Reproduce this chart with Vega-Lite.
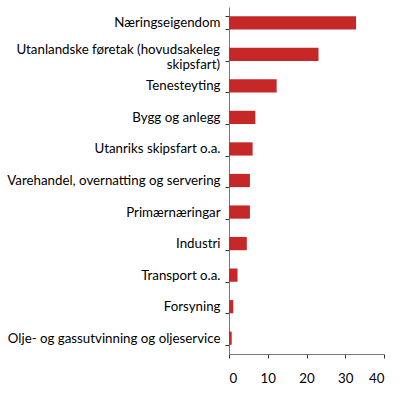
{
  "$schema": "https://vega.github.io/schema/vega-lite/v6.json",
  "autosize": "none",
  "width": 155,
  "height": 347,
  "padding": {"left": 229, "top": 7, "right": 16, "bottom": 41},
  "background": "white",
  "config": {"view": {"stroke": null}, "font": "Lato"},
  "data": {"values": [
    {"sektor": "Næringseigendom", "verdi": 32.8},
    {"sektor": "Utanlandske føretak (hovudsakeleg|skipsfart)", "verdi": 23.1},
    {"sektor": "Tenesteyting", "verdi": 12.3},
    {"sektor": "Bygg og anlegg", "verdi": 6.8},
    {"sektor": "Utanriks skipsfart o.a.", "verdi": 6.1},
    {"sektor": "Varehandel, overnatting og servering", "verdi": 5.4},
    {"sektor": "Primærnæringar", "verdi": 5.4},
    {"sektor": "Industri", "verdi": 4.6},
    {"sektor": "Transport o.a.", "verdi": 2.2},
    {"sektor": "Forsyning", "verdi": 1.1},
    {"sektor": "Olje- og gassutvinning og oljeservice", "verdi": 0.7}
  ]},
  "layer": [
    {
      "mark": {"type": "bar", "color": "#c62828"},
      "encoding": {
        "y": {
          "field": "sektor", "type": "nominal", "sort": null,
          "scale": {"paddingInner": 0.58, "paddingOuter": 0.29},
          "axis": {
            "title": null, "labelExpr": "indexof(datum.label, '|') >= 0 ? '' : datum.label",
            "labelFont": "Lato", "labelFontSize": 13.3, "labelColor": "#000",
            "labelPadding": 5, "labelLimit": 0,
            "tickBand": "extent", "tickSize": 4, "tickColor": "#333",
            "domainColor": "#777", "grid": false
          }
        },
        "x": {
          "field": "verdi", "type": "quantitative",
          "scale": {"domain": [0, 40], "nice": false},
          "axis": {
            "title": null, "values": [0, 10, 20, 30, 40], "labelOverlap": false,
            "labelFont": "Lato", "labelFontSize": 13.3, "labelColor": "#000",
            "labelPadding": 13, "tickSize": 4, "tickColor": "#333",
            "domainColor": "#777", "grid": false
          }
        }
      }
    },
    {
      "transform": [{"filter": "indexof(datum.sektor, '|') >= 0"}],
      "mark": {"type": "text", "align": "right", "baseline": "middle", "dx": -9, "dy": -4, "lineBreak": "|", "lineHeight": 15, "font": "Lato", "fontSize": 13.3, "color": "#000"},
      "encoding": {
        "y": {"field": "sektor", "type": "nominal", "sort": null},
        "x": {
          "datum": 0, "type": "quantitative",
          "axis": {
            "title": null, "values": [0, 10, 20, 30, 40], "labelOverlap": false,
            "labelFont": "Lato", "labelFontSize": 13.3, "labelColor": "#000",
            "labelPadding": 13, "tickSize": 4, "tickColor": "#333",
            "domainColor": "#777", "grid": false
          }
        },
        "text": {"field": "sektor"}
      }
    }
  ]
}
